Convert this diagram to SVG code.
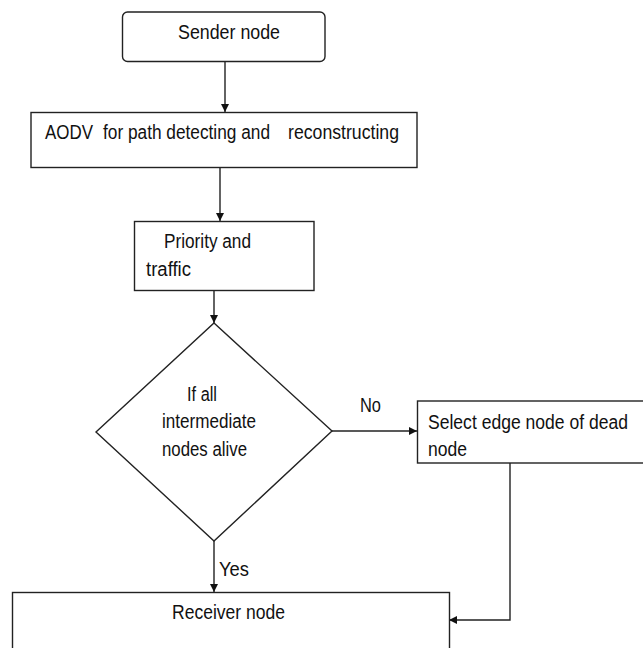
<svg xmlns="http://www.w3.org/2000/svg" width="643" height="648" viewBox="0 0 643 648">
<style>
.box{fill:#fff;stroke:#222;stroke-width:1.4}
.t{font-family:"Liberation Sans",Arial,sans-serif;font-size:20px;fill:#111}
.c{fill:none;stroke:#222;stroke-width:1.4}
</style>
<defs>
<marker id="ah" viewBox="0 0 10 10" refX="10" refY="5" markerWidth="8" markerHeight="8" markerUnits="userSpaceOnUse" orient="auto">
<path d="M0,0 L10,5 L0,10 z" fill="#111"/>
</marker>
</defs>
<rect width="643" height="648" fill="#fff"/>
<g id="connectors">
<line class="c" x1="225" y1="62" x2="225" y2="112" marker-end="url(#ah)"/>
<line class="c" x1="220" y1="168" x2="220" y2="221" marker-end="url(#ah)"/>
<line class="c" x1="214" y1="291" x2="214" y2="323" marker-end="url(#ah)"/>
<line class="c" x1="332" y1="431" x2="417" y2="431" marker-end="url(#ah)"/>
<line class="c" x1="214" y1="541" x2="214" y2="592" marker-end="url(#ah)"/>
<polyline class="c" points="510,463 510,620 449,620" marker-end="url(#ah)"/>
<text class="t" x="360" y="412" textLength="21" lengthAdjust="spacingAndGlyphs">No</text>
<text class="t" x="219" y="576" textLength="30" lengthAdjust="spacingAndGlyphs">Yes</text>
</g>
<g id="sender">
<rect class="box" x="122.5" y="12" width="202.5" height="49.5" rx="5"/>
<text class="t" x="178" y="39" textLength="102" lengthAdjust="spacingAndGlyphs">Sender node</text>
</g>
<g id="aodv">
<rect class="box" x="31" y="112.5" width="386" height="55"/>
<text class="t" y="139"><tspan x="45" textLength="48" lengthAdjust="spacingAndGlyphs">AODV</tspan><tspan x="103" textLength="167" lengthAdjust="spacingAndGlyphs">for path detecting and</tspan><tspan x="288" textLength="111" lengthAdjust="spacingAndGlyphs">reconstructing</tspan></text>
</g>
<g id="priority">
<rect class="box" x="134.5" y="221.5" width="179.5" height="69"/>
<text class="t" x="164" y="248" textLength="87" lengthAdjust="spacingAndGlyphs">Priority and</text>
<text class="t" x="146" y="275.5" textLength="45" lengthAdjust="spacingAndGlyphs">traffic</text>
</g>
<g id="decision">
<polygon class="box" points="214,323 332,431 214,541 96,432"/>
<text class="t" x="187" y="400.5" textLength="30" lengthAdjust="spacingAndGlyphs">If all</text>
<text class="t" x="162" y="428" textLength="94" lengthAdjust="spacingAndGlyphs">intermediate</text>
<text class="t" x="162" y="456" textLength="85" lengthAdjust="spacingAndGlyphs">nodes alive</text>
</g>
<g id="select">
<rect class="box" x="417.5" y="401" width="240" height="62"/>
<text class="t" x="428" y="429" textLength="200" lengthAdjust="spacingAndGlyphs">Select edge node of dead</text>
<text class="t" x="428" y="456" textLength="39" lengthAdjust="spacingAndGlyphs">node</text>
</g>
<g id="receiver">
<rect class="box" x="12.5" y="592.5" width="437" height="70"/>
<text class="t" x="172" y="619" textLength="113" lengthAdjust="spacingAndGlyphs">Receiver node</text>
</g>
</svg>
